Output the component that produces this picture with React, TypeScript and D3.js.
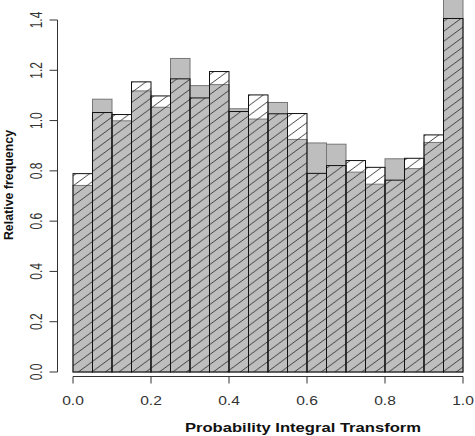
import * as d3 from "d3";

// PIT histogram: relative frequency per bin (20 bins of width 0.05)
const binStarts = d3.range(20).map((i) => i * 0.05);
const grayFreq = [0.742, 1.085, 0.999, 1.118, 1.053, 1.247, 1.139, 1.143, 1.047, 1.006, 1.072, 0.925, 0.911, 0.906, 0.795, 0.747, 0.848, 0.809, 0.913, 1.52];
const hatchFreq = [0.789, 1.032, 1.024, 1.154, 1.098, 1.166, 1.09, 1.195, 1.036, 1.102, 1.027, 1.028, 0.79, 0.821, 0.841, 0.814, 0.763, 0.85, 0.943, 1.406];
const xTicks = [0, 0.2, 0.4, 0.6, 0.8, 1.0];
const yTicks = [0, 0.2, 0.4, 0.6, 0.8, 1.0, 1.2, 1.4];

const W = 475, H = 436;
const binW = 0.05;
const sx = 1.3; // horizontal stretch of the lettering
const font = "'Liberation Sans', Arial, sans-serif";

export default function App() {
  const x = d3.scaleLinear([0, 1], [73, 463]);
  const y = d3.scaleLinear([0, 1.4], [372, 20]);
  const axisY = 57.5, axisX = 376.5;

  return (
    <svg width={W} height={H} style={{ position: "absolute", left: 0, top: 0, background: "#fff" }}>
      <defs>
        <pattern id="hatch" patternUnits="userSpaceOnUse" width="13.5" height="10">
          <path d="M0,10 L13.5,0 M-3.375,2.5 L3.375,-2.5 M10.125,12.5 L16.875,7.5" stroke="#333" strokeWidth="0.9" />
        </pattern>
      </defs>

      {/* gray histogram */}
      <g fill="#bebebe" stroke="#777" strokeWidth="1">
        {binStarts.map((b, i) => (
          <rect key={i} x={x(b)} y={y(grayFreq[i])} width={x(b + binW) - x(b)} height={y(0) - y(grayFreq[i])} />
        ))}
      </g>
      {/* hatched histogram */}
      <g fill="url(#hatch)" stroke="#111" strokeWidth="1">
        {binStarts.map((b, i) => (
          <rect key={i} x={x(b)} y={y(hatchFreq[i])} width={x(b + binW) - x(b)} height={y(0) - y(hatchFreq[i])} />
        ))}
      </g>

      {/* y axis */}
      <g stroke="#333" strokeWidth="1" fill="none">
        <line x1={axisY} x2={axisY} y1={y(1.4)} y2={y(0)} />
        {yTicks.map((t) => (
          <line key={t} x1={axisY - 8} x2={axisY} y1={y(t)} y2={y(t)} />
        ))}
      </g>
      <g fontFamily={font} fontSize="12" fill="#333" textAnchor="middle">
        {yTicks.map((t) => (
          <text key={t} transform={`translate(41.5,${y(t)}) scale(${sx},1) rotate(-90)`}>{d3.format(".1f")(t)}</text>
        ))}
      </g>

      {/* x axis */}
      <g stroke="#333" strokeWidth="1" fill="none">
        <line x1={x(0)} x2={x(1)} y1={axisX} y2={axisX} />
        {xTicks.map((t) => (
          <line key={t} x1={x(t)} x2={x(t)} y1={axisX} y2={axisX + 7} />
        ))}
      </g>
      <g fontFamily={font} fontSize="12" fill="#333" textAnchor="middle">
        {xTicks.map((t) => (
          <text key={t} transform={`translate(${x(t)},405) scale(${sx},1)`}>{d3.format(".1f")(t)}</text>
        ))}
      </g>

      <text transform={`translate(303,432) scale(1.33,1)`} fontFamily={font} fontSize="12.5" fontWeight="bold" fill="#111" textAnchor="middle">
        Probability Integral Transform
      </text>
      <text transform={`translate(12.5,185) scale(1.05,1) rotate(-90)`} fontFamily={font} fontSize="12.4" fontWeight="bold" fill="#111" textAnchor="middle">
        Relative frequency
      </text>
    </svg>
  );
}
